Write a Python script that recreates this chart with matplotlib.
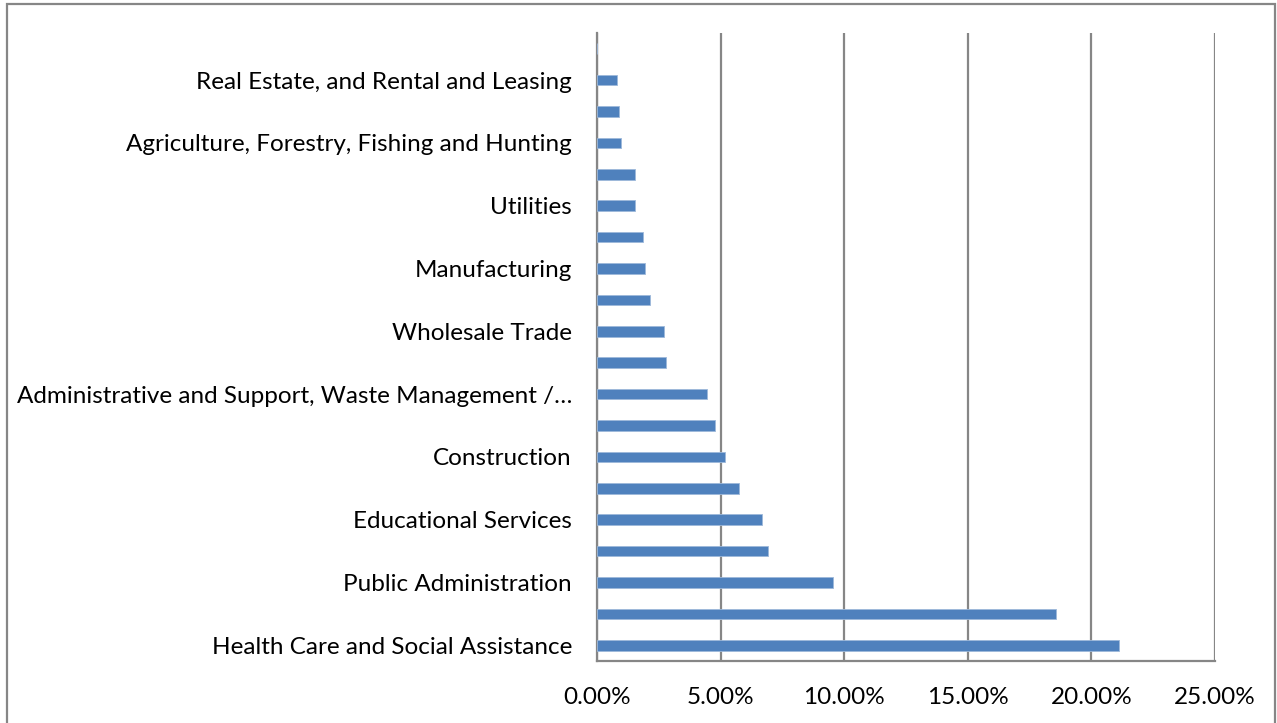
import matplotlib
matplotlib.use("Agg")
import matplotlib.pyplot as plt
from matplotlib.patches import Rectangle
from matplotlib.ticker import FuncFormatter

# Industry sectors, bottom to top (every other label is shown on the axis)
industries = [
    "Health Care and Social Assistance",
    "Retail Trade",
    "Public Administration",
    "Accommodation and Food Services",
    "Educational Services",
    "Other Services (except Public Administration)",
    "Construction",
    "Professional, Scientific, and Technical Services",
    "Administrative and Support, Waste Management / Remediation Services",
    "Transportation and Warehousing",
    "Wholesale Trade",
    "Finance and Insurance",
    "Manufacturing",
    "Arts, Entertainment, and Recreation",
    "Utilities",
    "Information",
    "Agriculture, Forestry, Fishing and Hunting",
    "Mining, Quarrying, and Oil and Gas Extraction",
    "Real Estate, and Rental and Leasing",
    "Management of Companies and Enterprises",
]
# Share of employment (%)
shares = [21.10, 18.55, 9.55, 6.92, 6.69, 5.73, 5.17, 4.77, 4.46, 2.79,
          2.71, 2.16, 1.93, 1.85, 1.53, 1.53, 0.97, 0.90, 0.82, 0.0]

x_ticks = [0, 5, 10, 15, 20, 25]

BAR_COLOR = "#4F81BD"
GRID_COLOR = "#868686"
FONT = "Lato"
FONT_SIZE = 17.5
MAX_LABEL = 46

W, H = 1277, 723
fig = plt.figure(figsize=(W / 100, H / 100), dpi=100)
fig.patch.set_facecolor("white")

# Outer chart frame
fig.patches.append(Rectangle((7 / W, -0.05), (1275 - 7) / W, 1 - 4 / H + 0.05,
                             transform=fig.transFigure, fill=False,
                             edgecolor="#868686", linewidth=1.6))

ax = fig.add_axes([597 / W, 1 - 661 / H, (1215 - 597) / W, (661 - 33) / H])

pos = list(range(len(industries)))
ax.barh(pos, shares, height=0.34, color=BAR_COLOR, edgecolor="#9DB8DA",
        linewidth=0.6, zorder=3)

ax.set_xlim(x_ticks[0], x_ticks[-1])
ax.set_ylim(-0.5, len(industries) - 0.5)

ax.set_xticks(x_ticks)
ax.xaxis.set_major_formatter(FuncFormatter(lambda v, p: f"{v:.2f}%"))
ax.grid(axis="x", color=GRID_COLOR, linewidth=1.6, zorder=0)


def short(name):
    if len(name) <= MAX_LABEL:
        return name
    return name[:MAX_LABEL].rstrip() + "\u2026"


ax.set_yticks(pos)
ax.set_yticklabels([short(n) if i % 2 == 0 and i < 19 else ""
                    for i, n in enumerate(industries)])

for lbl in ax.get_yticklabels() + ax.get_xticklabels():
    lbl.set_fontfamily(FONT)
    lbl.set_fontsize(FONT_SIZE)
    lbl.set_color("black")

ax.tick_params(axis="y", length=0, pad=18)
ax.tick_params(axis="x", length=0, pad=19)

for s in ("top", "right"):
    ax.spines[s].set_visible(False)
for s in ("left", "bottom"):
    ax.spines[s].set_color(GRID_COLOR)
    ax.spines[s].set_linewidth(1.6)

fig.savefig("out.png", dpi=100)
